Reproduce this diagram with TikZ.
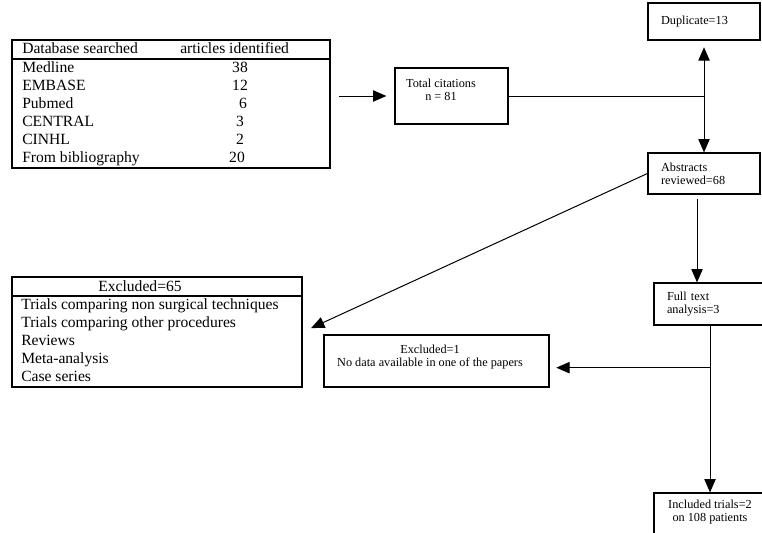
\documentclass[tikz,border=0pt]{standalone}
\usepackage{fontspec}
\setmainfont{Liberation Serif}
\usetikzlibrary{arrows.meta}

\tikzset{
  box/.style={draw, line width=0.9pt, inner sep=0pt},
  stagebox/.style={box, text width=64.5pt, inner xsep=9.75pt, align=left},
  txt/.style={inner sep=0pt, anchor=base west},
  num/.style={inner sep=0pt, anchor=base},
  listfont/.style={font=\fontsize{11.7pt}{14pt}\selectfont},
  link/.style={line width=0.75pt},
  arr/.style={link, -{Triangle[length=10pt,width=8.5pt]}},
}

\begin{document}
\begin{tikzpicture}[x=0.75pt, y=-0.75pt, font=\fontsize{9.2pt}{9.75pt}\selectfont]
  \useasboundingbox (0,0) rectangle (762,532);

  % search table
  \node[box, minimum width=238.5pt, minimum height=96pt] (tbl) at (171,104) {};
  \draw[box] (12,59) -- (330,59);
  \node[txt, listfont] (dbhead) at (22,53) {Database searched};
  \node[txt, listfont] (numhead) at (180,53) {articles identified};
  \foreach \db/\n/\xn [count=\i from 0] in {Medline/38/240, EMBASE/12/240, Pubmed/6/243,
      CENTRAL/3/240, CINHL/2/240, From bibliography/20/237} {
    \node[txt, listfont] (db\i) at (22,{72+18*\i}) {\db};
    \node[num, listfont] (n\i) at (\xn,{72+18*\i}) {\n};
  }

  % flow boxes
  \node[box, minimum width=84.75pt, minimum height=42pt] (tot) at (451.5,96) {};
  \node[align=center, inner sep=0pt] (totlbl) at (441,90) {Total citations\\n = 81};

  \node[stagebox, minimum height=27.75pt] (dup) at (704,21.5) {Duplicate=13};
  \node[stagebox, minimum height=30.75pt] (abs) at (704,173.5) {Abstracts\\reviewed=68};
  \node[stagebox, minimum height=31.5pt] (ftx) at (710,304) {Full text\\analysis=3};

  \node[box, minimum width=84pt, minimum height=39pt] (inc) at (710,519) {};
  \node[align=center, inner sep=0pt] (inclbl) at (710,512) {Included trials=2\\on 108 patients};

  % excluded boxes
  \node[box, minimum width=217.5pt, minimum height=82.5pt] (ex65) at (157,332) {};
  \draw[box] (12,296) -- (302,296);
  \node[num, listfont] (exhead) at (140,291) {Excluded=65};
  \foreach \r [count=\i from 0] in {Trials comparing non surgical techniques,
      Trials comparing other procedures, Reviews, Meta-analysis, Case series} {
    \node[txt, listfont] (ex\i) at (21,{309+18*\i}) {\r};
  }

  \node[box, minimum width=168.75pt, minimum height=39pt] (ex1) at (436.5,361) {};
  \node[align=center, inner sep=0pt] (ex1lbl) at (430,357) {Excluded=1\\No data available in one of the papers};

  % connectors
  \coordinate (split) at (tot.east -| dup.south);
  \draw[arr, shorten <=6pt, shorten >=6pt] (tbl.east |- tot.west) -- (tot.west);
  \draw[link] (tot.east) -- (split);
  \draw[arr, shorten >=5pt] (split) -- (dup.south);
  \draw[arr] (split) -- (abs.north);
  \draw[arr, shorten >=7pt] (abs.west) -- (ex65.east);
  \draw[arr] ([xshift=-5.25pt,yshift=-3pt]abs.south) -- ([xshift=-5.25pt]abs.south |- ftx.north);
  \coordinate (ex1in) at ([yshift=-5pt]ex1.east);
  \draw[arr, shorten >=5pt] (ftx.south |- ex1in) -- (ex1in);
  \draw[arr] (ftx.south) -- (inc.north);
\end{tikzpicture}
\end{document}
